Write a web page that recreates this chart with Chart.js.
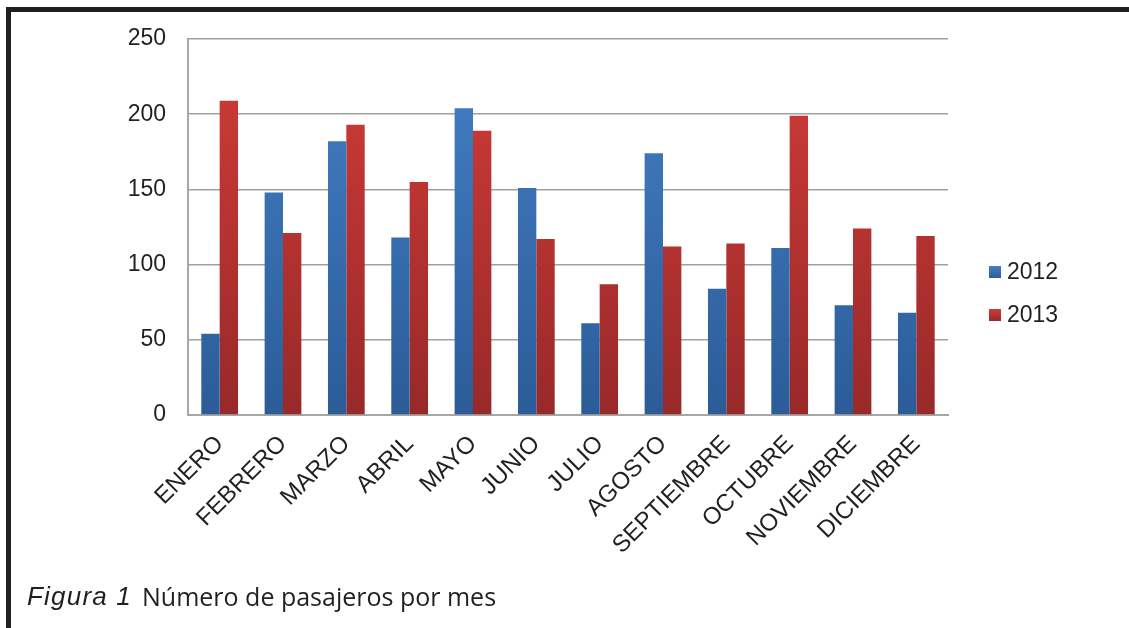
<!DOCTYPE html>
<html>
<head>
<meta charset="utf-8">
<script src="https://cdn.jsdelivr.net/npm/chart.js@4"></script>
<style>
  html, body { margin: 0; padding: 0; background: #fff; }
  #wrap { position: relative; width: 1129px; height: 628px; overflow: hidden; }
  #topLine { position: absolute; left: 6px; top: 7px; width: 1123px; height: 5px; background: #231f20; }
  #leftLine { position: absolute; left: 6px; top: 7px; width: 5px; height: 621px; background: #231f20; }
  #chart { position: absolute; left: 0; top: 0; }
  #legend { position: absolute; left: 989px; top: 250px; font-family: "Liberation Sans", Arial, sans-serif; font-size: 23px; color: #231f20; }
  #legend div { height: 43px; display: flex; align-items: center; }
  #legend span.box { display: inline-block; width: 12px; height: 12px; margin-right: 6px; }
  .cap { position: absolute; top: 580px; height: 32px; line-height: 32px; color: #231f20; white-space: nowrap; }
  #capA { left: 27px; font-family: "Liberation Sans", Arial, sans-serif; font-style: italic; font-size: 26px; letter-spacing: 1.2px; }
  #capB { left: 142px; font-family: "Open Sans", sans-serif; font-size: 25px; }
</style>
</head>
<body>
<div id="wrap">
  <canvas id="chart" width="1129" height="628"></canvas>
  <div id="topLine"></div>
  <div id="leftLine"></div>
  <div id="legend"></div>
  <div class="cap" id="capA">Figura 1</div>
  <div class="cap" id="capB">Número de pasajeros por mes</div>
</div>
<script>
// datos
const meses = ["ENERO", "FEBRERO", "MARZO", "ABRIL", "MAYO", "JUNIO", "JULIO",
               "AGOSTO", "SEPTIEMBRE", "OCTUBRE", "NOVIEMBRE", "DICIEMBRE"];
const pasajeros2012 = [54, 148, 182, 118, 204, 151, 61, 174, 84, 111, 73, 68];
const pasajeros2013 = [209, 121, 193, 155, 189, 117, 87, 112, 114, 199, 124, 119];
const yTicks = [0, 50, 100, 150, 200, 250];

const azul = ["rgb(68,128,198)", "rgb(43,92,152)"];
const rojo = ["rgb(210,60,56)", "rgb(152,41,41)"];

// degradado vertical para las barras
function gradiente(colores) {
    return (ctx) => {
        const area = ctx.chart.chartArea;
        if (!area) return colores[0];
        const g = ctx.chart.ctx.createLinearGradient(0, area.top, 0, area.bottom);
        g.addColorStop(0, colores[0]);
        g.addColorStop(1, colores[1]);
        return g;
    };
}

const series = [
    { label: "2012", data: pasajeros2012, colores: azul },
    { label: "2013", data: pasajeros2013, colores: rojo }
];

const chart = new Chart(document.getElementById("chart").getContext("2d"), {
    type: "bar",
    data: {
        labels: meses,
        datasets: series.map(s => ({
            label: s.label,
            data: s.data,
            backgroundColor: gradiente(s.colores),
            borderWidth: 0,
            categoryPercentage: 0.58,
            barPercentage: 1.0
        }))
    },
    options: {
        responsive: false,
        animation: false,
        layout: { padding: { left: 0, top: 39, right: 1129 - 948, bottom: 0 } },
        plugins: { legend: { display: false }, tooltip: { enabled: false } },
        scales: {
            x: {
                afterFit: (s) => { s.height = 628 - 39 - 376; },
                grid: { display: false, drawTicks: false },
                border: { color: "#a6a6a6", width: 2 },
                ticks: {
                    minRotation: 45, maxRotation: 45, padding: 15,
                    color: "#231f20",
                    font: { family: "Liberation Sans", size: 24 }
                }
            },
            y: {
                min: 0, max: 250,
                afterFit: (s) => { s.width = 188; },
                afterBuildTicks: (s) => { s.ticks = yTicks.map(v => ({ value: v })); },
                grid: { color: "#a0a0a0", lineWidth: 1.6, drawTicks: false },
                border: { color: "#a6a6a6", width: 2 },
                ticks: {
                    padding: 22,
                    color: "#231f20",
                    font: { family: "Liberation Sans", size: 23 }
                }
            }
        }
    }
});

// leyenda
const legend = document.getElementById("legend");
series.forEach(s => {
    const row = document.createElement("div");
    row.innerHTML = `<span class="box" style="background:linear-gradient(${s.colores[0]},${s.colores[1]})"></span>${s.label}`;
    legend.appendChild(row);
});
</script>
</body>
</html>
